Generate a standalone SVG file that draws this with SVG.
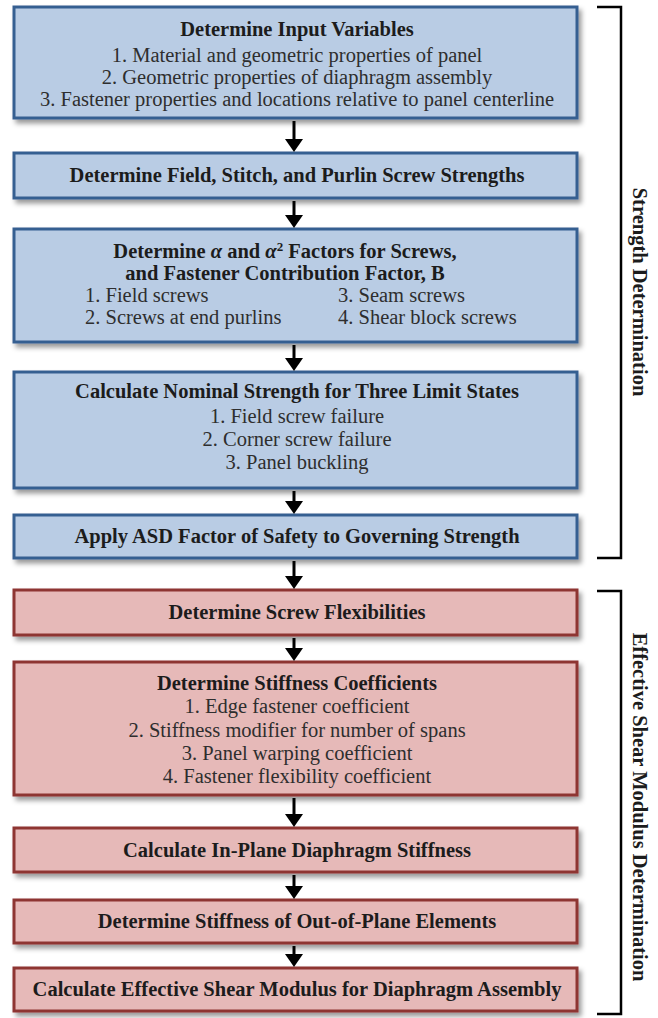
<svg xmlns="http://www.w3.org/2000/svg" width="658" height="1018" viewBox="0 0 658 1018">
<defs>
<filter id="sh" x="-5%" y="-20%" width="115%" height="150%">
<feDropShadow dx="3" dy="4" stdDeviation="2.5" flood-color="#000" flood-opacity="0.4"/>
</filter>
<marker id="ah" markerUnits="userSpaceOnUse" markerWidth="14" markerHeight="18" refX="3" refY="9" orient="auto">
<path d="M0,0 L13,9 L0,18 z" fill="#000"/>
</marker>
</defs>
<style>
.blue{fill:#b9cce4;stroke:#365f91;stroke-width:3;filter:url(#sh)}
.red{fill:#e6b9b8;stroke:#8e3432;stroke-width:3;filter:url(#sh)}
text{font-family:"Liberation Serif","Times New Roman",serif;font-size:20.5px}
.t{font-weight:bold;fill:#1c1c1c;text-anchor:middle}
.i{fill:#2e2e2e;text-anchor:middle}
.l{fill:#2e2e2e;text-anchor:start}
.side{font-weight:bold;fill:#1c1c1c;text-anchor:middle;dominant-baseline:central}
.con{stroke:#000;stroke-width:3;fill:none;marker-end:url(#ah)}
.br{stroke:#000;stroke-width:2.5;fill:none}
</style>
<rect width="658" height="1018" fill="#fff"/>

<g id="n1">
<rect class="blue" x="14" y="7" width="563" height="111"/>
<text class="t" x="297" y="36">Determine Input Variables</text>
<text class="i" x="297" y="62">1. Material and geometric properties of panel</text>
<text class="i" x="297" y="84">2. Geometric properties of diaphragm assembly</text>
<text class="i" x="297" y="106">3. Fastener properties and locations relative to panel centerline</text>
</g>

<g id="n2">
<rect class="blue" x="14" y="153" width="563" height="45"/>
<text class="t" x="297" y="182">Determine Field, Stitch, and Purlin Screw Strengths</text>
</g>

<g id="n3">
<rect class="blue" x="14" y="229" width="563" height="113"/>
<text class="t" x="285" y="258">Determine <tspan font-style="italic">α</tspan> and <tspan font-style="italic">α</tspan><tspan baseline-shift="super" font-size="13">2</tspan> Factors for Screws,</text>
<text class="t" x="285" y="280">and Fastener Contribution Factor, B</text>
<text class="l" x="85" y="302">1. Field screws</text>
<text class="l" x="85" y="324">2. Screws at end purlins</text>
<text class="l" x="338" y="302">3. Seam screws</text>
<text class="l" x="338" y="324">4. Shear block screws</text>
</g>

<g id="n4">
<rect class="blue" x="14" y="372" width="563" height="116"/>
<text class="t" x="297" y="398">Calculate Nominal Strength for Three Limit States</text>
<text class="i" x="297" y="423">1. Field screw failure</text>
<text class="i" x="297" y="446">2. Corner screw failure</text>
<text class="i" x="297" y="469">3. Panel buckling</text>
</g>

<g id="n5">
<rect class="blue" x="14" y="515" width="563" height="43"/>
<text class="t" x="297" y="543">Apply ASD Factor of Safety to Governing Strength</text>
</g>

<g id="n6">
<rect class="red" x="14" y="590" width="563" height="45"/>
<text class="t" x="297" y="619">Determine Screw Flexibilities</text>
</g>

<g id="n7">
<rect class="red" x="14" y="662" width="563" height="133"/>
<text class="t" x="297" y="690">Determine Stiffness Coefficients</text>
<text class="i" x="297" y="713">1. Edge fastener coefficient</text>
<text class="i" x="297" y="737">2. Stiffness modifier for number of spans</text>
<text class="i" x="297" y="760">3. Panel warping coefficient</text>
<text class="i" x="297" y="783">4. Fastener flexibility coefficient</text>
</g>

<g id="n8">
<rect class="red" x="14" y="828" width="563" height="44"/>
<text class="t" x="297" y="857">Calculate In-Plane Diaphragm Stiffness</text>
</g>

<g id="n9">
<rect class="red" x="14" y="900" width="563" height="43"/>
<text class="t" x="297" y="928">Determine Stiffness of Out-of-Plane Elements</text>
</g>

<g id="n10">
<rect class="red" x="14" y="968" width="563" height="43"/>
<text class="t" x="297" y="996">Calculate Effective Shear Modulus for Diaphragm Assembly</text>
</g>

<g id="connectors">
<line class="con" x1="294" y1="121" x2="294" y2="142"/>
<line class="con" x1="294" y1="201" x2="294" y2="218"/>
<line class="con" x1="294" y1="345" x2="294" y2="361"/>
<line class="con" x1="294" y1="491" x2="294" y2="504"/>
<line class="con" x1="294" y1="561" x2="294" y2="579"/>
<line class="con" x1="294" y1="638" x2="294" y2="651"/>
<line class="con" x1="294" y1="798" x2="294" y2="817"/>
<line class="con" x1="294" y1="875" x2="294" y2="889"/>
<line class="con" x1="294" y1="946" x2="294" y2="957"/>
</g>

<g id="strength-bracket">
<path class="br" d="M597,7 H621 V558 H597"/>
<text class="side" transform="translate(640,292) rotate(90)">Strength Determination</text>
</g>

<g id="stiffness-bracket">
<path class="br" d="M597,591 H621 V1014 H597"/>
<text class="side" transform="translate(640,807) rotate(90)">Effective Shear Modulus Determination</text>
</g>
</svg>
